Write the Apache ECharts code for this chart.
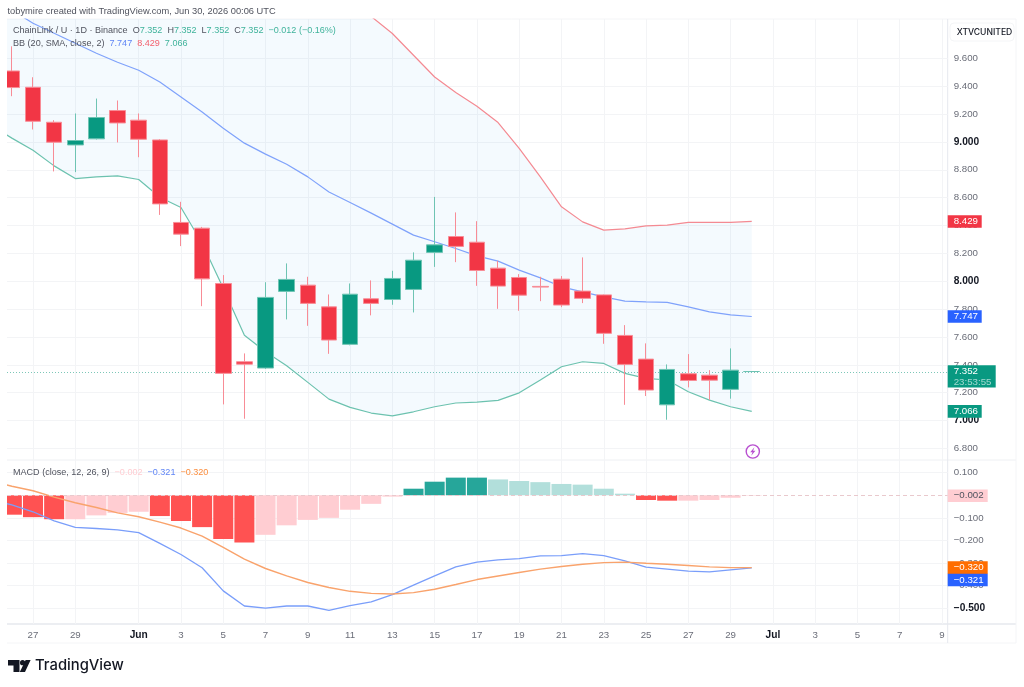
<!DOCTYPE html>
<html>
<head>
<meta charset="utf-8">
<title>ChainLink / U daily</title>
<style>
  html, body { margin: 0; padding: 0; background: #ffffff; }
  #chart { width: 1024px; height: 687px; }
</style>
<script src="https://cdn.jsdelivr.net/npm/echarts@6/dist/echarts.min.js"></script>
</head>
<body>
<div id="chart"></div>
<script>
// Calendar days since 27 May 2026 (25 May only feeds the indicator lines at the left edge).
const dayOffsets = [-2,-1,0,1,2,3,4,5,6,7,8,9,10,11,12,13,14,15,16,17,18,19,20,21,22,23,24,25,26,27,28,29,30,31,32,33,34];
const timeTicks = [0,2,5,7,9,11,13,15,17,19,21,23,25,27,29,31,33,35,37,39,41,43];
const timeLabels = ['27','29','Jun','3','5','7','9','11','13','15','17','19','21','23','25','27','29','Jul','3','5','7','9'];

const priceTicks = [6.8,7.0,7.2,7.4,7.6,7.8,8.0,8.2,8.4,8.6,8.8,9.0,9.2,9.4,9.6];
const macdTicks = [-0.5,-0.4,-0.3,-0.2,-0.1,0.1];

// Daily candles, 26 May to 30 Jun.
const opens  = [9.509,9.392,9.141,8.978,9.022,9.225,9.156,9.014,8.422,8.381,7.984,7.422,7.377,7.927,7.972,7.816,7.547,7.874,7.869,7.941,8.207,8.321,8.280,8.094,8.027,7.963,8.015,7.929,7.902,7.611,7.441,7.113,7.336,7.326,7.224,7.352];
const closes = [9.390,9.148,8.998,9.010,9.175,9.136,9.019,8.555,8.338,8.017,7.339,7.405,7.884,8.013,7.841,7.578,7.907,7.841,8.020,8.151,8.261,8.250,8.077,7.965,7.900,7.958,7.829,7.877,7.626,7.403,7.219,7.367,7.288,7.290,7.362,7.352];
const lows   = [9.328,9.089,8.788,8.783,9.017,8.996,8.890,8.476,8.252,7.821,7.116,7.013,7.370,7.726,7.680,7.479,7.540,7.755,7.831,7.776,8.103,8.137,7.967,7.802,7.788,7.857,7.814,7.843,7.551,7.113,7.176,7.006,7.238,7.149,7.157,7.352];
const highs  = [9.686,9.464,9.156,9.204,9.311,9.297,9.204,9.020,8.570,8.390,8.044,7.482,7.993,8.128,8.032,7.905,7.984,8.006,8.075,8.207,8.605,8.494,8.431,8.146,8.051,8.032,8.037,8.171,7.905,7.685,7.554,7.403,7.477,7.362,7.518,7.352];

// Bollinger bands, 25 May to 30 Jun.
const bbBasis = [10.040,9.945,9.852,9.780,9.708,9.636,9.572,9.514,9.430,9.323,9.215,9.098,8.991,8.912,8.840,8.749,8.641,8.565,8.489,8.410,8.331,8.283,8.235,8.182,8.144,8.080,8.024,7.960,7.924,7.888,7.857,7.852,7.848,7.816,7.780,7.759,7.747];
const bbUpper = [10.960,10.863,10.764,10.732,10.679,10.523,10.388,10.298,10.257,10.117,10.157,10.246,10.369,10.330,10.287,10.224,10.128,10.035,9.900,9.778,9.622,9.466,9.354,9.256,9.139,8.953,8.749,8.534,8.426,8.367,8.376,8.397,8.402,8.422,8.422,8.422,8.429];
const bbLower = [9.120,9.027,8.940,8.828,8.737,8.749,8.756,8.730,8.603,8.529,8.273,7.950,7.613,7.494,7.393,7.274,7.154,7.095,7.054,7.034,7.063,7.099,7.126,7.133,7.145,7.199,7.291,7.386,7.422,7.410,7.339,7.303,7.291,7.207,7.147,7.099,7.066];

// MACD (12, 26, 9): histogram starts on 26 May, the two lines on 25 May.
const macdHist = [-0.086,-0.097,-0.106,-0.106,-0.089,-0.078,-0.073,-0.092,-0.114,-0.141,-0.193,-0.209,-0.175,-0.133,-0.109,-0.100,-0.064,-0.038,-0.006,0.029,0.060,0.078,0.078,0.070,0.063,0.058,0.050,0.047,0.029,0.007,-0.021,-0.024,-0.024,-0.021,-0.011,-0.002];
const macdLine = [-0.020,-0.043,-0.073,-0.113,-0.142,-0.147,-0.153,-0.165,-0.213,-0.262,-0.321,-0.423,-0.490,-0.499,-0.490,-0.490,-0.509,-0.488,-0.472,-0.440,-0.398,-0.357,-0.317,-0.296,-0.286,-0.280,-0.268,-0.267,-0.258,-0.267,-0.290,-0.318,-0.327,-0.336,-0.339,-0.330,-0.321];
const macdSignal = [0.063,0.040,0.020,-0.008,-0.033,-0.054,-0.078,-0.095,-0.119,-0.145,-0.181,-0.231,-0.283,-0.324,-0.357,-0.386,-0.408,-0.425,-0.434,-0.437,-0.431,-0.416,-0.395,-0.373,-0.357,-0.342,-0.327,-0.315,-0.305,-0.298,-0.296,-0.301,-0.305,-0.311,-0.317,-0.320,-0.320];

const lastPrice = 7.352;
const lastHist = -0.002;

const UI_FONT = '"Liberation Sans", Arial, sans-serif';
const TEXT_PX = 9.7;
const FONT = TEXT_PX + 'px ' + UI_FONT;
const LEGEND_FONT = '9.05px ' + UI_FONT;
const GREEN = '#089981', RED = '#f23645', BLUE = '#2962ff', ORANGE = '#ff6d00';
const MUTED = '#6a6d78', INK = '#131722', GRID = '#f3f4f6', FRAME = '#e6e8ee';

const pane = { left: 7, right: 947.7, top: 19, split: 460, bottom: 624, axisEnd: 643, outer: 1016 };
const xMin = -1.23, xMax = 43.27;

const candleDays = dayOffsets.slice(1);
const pairs = (values) => values.map((v, i) => [dayOffsets[i], v]);

const candleData = candleDays.map((d, i) => ({
  value: [d, opens[i], closes[i], lows[i], highs[i]]
}));

// Histogram shade: strong while the bar grows away from zero, pale while it shrinks.
const histData = macdHist.map((v, i) => {
  const prev = i ? macdHist[i - 1] : 0;
  const rising = v >= prev;
  const colour = v >= 0 ? (rising ? '#26a69a' : '#b2dfdb') : (rising ? '#ffcdd2' : '#ff5252');
  return { value: [candleDays[i], v], itemStyle: { color: colour } };
});

// Value tags sitting on the price scale.
const priceTags = [
  { value: bbUpper[bbUpper.length - 1], text: '8.429', bg: RED, fg: '#ffffff', w: 34 },
  { value: bbBasis[bbBasis.length - 1], text: '7.747', bg: BLUE, fg: '#ffffff', w: 34 },
  { value: bbLower[bbLower.length - 1], text: '7.066', bg: GREEN, fg: '#ffffff', w: 34 },
  { value: lastPrice, text: '7.352', sub: '23:53:55', bg: GREEN, fg: '#ffffff', w: 48 }
];
const macdTags = [
  { value: lastHist, text: '\u22120.002', bg: '#ffcdd2', fg: '#50535e', w: 40 },
  { value: macdSignal[macdSignal.length - 1], text: '\u22120.320', bg: ORANGE, fg: '#ffffff', w: 40 },
  { value: macdLine[macdLine.length - 1], text: '\u22120.321', bg: BLUE, fg: '#ffffff', w: 40, shift: 12.2 }
];

function tagRenderer(tags) {
  return function (params, api) {
    const tag = tags[params.dataIndex];
    const p = api.coord([api.value(0), api.value(1)]);
    const y = p[1] + (tag.shift || 0);
    const children = [{
      type: 'rect',
      shape: { x: p[0], y: y - 6.3, width: tag.w, height: tag.sub ? 22.4 : 12.6 },
      style: { fill: tag.bg }
    }, {
      type: 'text',
      style: { x: p[0] + 6, y: y, text: tag.text, fill: tag.fg, font: FONT,
               textAlign: 'left', textVerticalAlign: 'middle' }
    }];
    if (tag.sub) {
      children.push({
        type: 'text',
        style: { x: p[0] + 6, y: y + 10.4, text: tag.sub, fill: 'rgba(255,255,255,0.62)',
                 font: FONT, textAlign: 'left', textVerticalAlign: 'middle' }
      });
    }
    return { type: 'group', children: children };
  };
}

// Channel between the outer bands, drawn as one polygon from the band values.
function channelRenderer(params, api) {
  if (params.dataIndex !== 0) return null;
  const top = dayOffsets.map((d, i) => api.coord([d, bbUpper[i]]));
  const bottom = dayOffsets.map((d, i) => api.coord([d, bbLower[i]])).reverse();
  return {
    type: 'polygon',
    shape: { points: top.concat(bottom) },
    style: { fill: 'rgba(33,150,243,0.05)' }
  };
}

const frameLine = (x1, y1, x2, y2, colour, width) => ({
  type: 'line', silent: true, z: -1,
  shape: { x1, y1, x2, y2 },
  style: { stroke: colour || FRAME, lineWidth: width || 1 }
});

const legendText = (x, y, text, rich) => ({
  type: 'text', silent: true, z: 50, x, y,
  style: { text, rich, font: LEGEND_FONT, fill: '#50535e', textVerticalAlign: 'middle' }
});

const ohlcRich = {
  n: { fill: '#50535e', font: LEGEND_FONT },
  g: { fill: '#3fb39b', font: LEGEND_FONT },
  b: { fill: '#5f85f5', font: LEGEND_FONT },
  r: { fill: '#f4626f', font: LEGEND_FONT },
  p: { fill: '#ffcdd2', font: LEGEND_FONT },
  o: { fill: '#fb8c3c', font: LEGEND_FONT }
};

const graphics = [
  // Pane frame and separators
  frameLine(pane.left, pane.top, pane.outer, pane.top, '#f4f5f7'),
  frameLine(pane.left, pane.split, pane.outer, pane.split, '#eef0f3'),
  frameLine(pane.left, pane.bottom, pane.outer, pane.bottom, '#eceef2', 2),
  frameLine(pane.left, pane.axisEnd, pane.outer, pane.axisEnd, '#f4f5f7'),
  frameLine(pane.right, pane.top, pane.right, pane.axisEnd, FRAME),
  frameLine(pane.outer, pane.top, pane.outer, pane.axisEnd, '#f4f5f7'),
  // Left margin: wide bars at the first visible day stop at the pane edge
  { type: 'rect', silent: true, z: 40, shape: { x: 0, y: pane.top, width: pane.left, height: pane.bottom - pane.top },
    style: { fill: '#ffffff' } },
  // Headings
  { type: 'text', silent: true, x: 7.5, y: 11, z: 50,
    style: { text: 'tobymire created with TradingView.com, Jun 30, 2026 00:06 UTC',
             font: '9.3px ' + UI_FONT, fill: '#50535e', textVerticalAlign: 'middle' } },
  legendText(13, 31, '{n|ChainLink / U \u00b7 1D \u00b7 Binance}  {n|O}{g|7.352}  {n|H}{g|7.352}  {n|L}{g|7.352}  {n|C}{g|7.352}  {g|\u22120.012 (\u22120.16%)}', ohlcRich),
  legendText(13, 43.5, '{n|BB (20, SMA, close, 2)}  {b|7.747}  {r|8.429}  {g|7.066}', ohlcRich),
  legendText(13, 472.7, '{n|MACD (close, 12, 26, 9)}  {p|\u22120.002}  {b|\u22120.321}  {o|\u22120.320}', ohlcRich),
  // Exchange badge above the price scale
  { type: 'rect', silent: true, z: 50,
    shape: { x: 950, y: 23, width: 64, height: 18, r: 4 },
    style: { fill: '#ffffff', stroke: '#f4f5f7' } },
  { type: 'text', silent: true, z: 51, x: 956.7, y: 32,
    style: { text: 'XTVCUNITED', font: '500 8.6px Inter, ' + UI_FONT, fill: INK, textVerticalAlign: 'middle' } },
  // Event badge
  { type: 'circle', silent: true, z: 50,
    shape: { cx: 752.8, cy: 451.5, r: 6.6 },
    style: { fill: '#ffffff', stroke: '#b84fd0', lineWidth: 1.4 } },
  { type: 'polygon', silent: true, z: 51,
    shape: { points: [[754.4, 447.2], [750.2, 452.2], [752.5, 452.2], [751.2, 455.8], [755.4, 450.8], [753.1, 450.8]] },
    style: { fill: '#b84fd0' } },
  // Wordmark
  { type: 'polygon', silent: true,
    shape: { points: [[8, 660], [19.5, 660], [19.5, 672], [13.5, 672], [13.5, 665.5], [8, 665.5]] },
    style: { fill: '#131722' } },
  { type: 'circle', silent: true, shape: { cx: 22.6, cy: 662.7, r: 2.6 }, style: { fill: '#131722' } },
  { type: 'polygon', silent: true,
    shape: { points: [[25.6, 660], [30.6, 660], [25, 672], [19.8, 672]] },
    style: { fill: '#131722' } },
  { type: 'text', silent: true, x: 35, y: 665.5,
    style: { text: 'TradingView', font: '500 14.8px Inter, ' + UI_FONT, fill: '#131722', textVerticalAlign: 'middle' } }
];

const priceLabel = v => v.toFixed(3);
const macdLabel = v => (v < 0 ? '\u2212' : '') + Math.abs(v).toFixed(3);

const axisCommon = {
  axisLine: { show: false },
  axisTick: { show: false },
  splitLine: { show: true, lineStyle: { color: GRID, width: 1 } }
};

const boldRich = { bold: { fontSize: 10.2, fontWeight: 700, color: INK, fontFamily: UI_FONT } };

const option = {
  animation: false,
  backgroundColor: '#ffffff',
  textStyle: { fontFamily: UI_FONT },
  graphic: graphics,
  grid: [
    { left: pane.left, top: pane.top, width: pane.right - pane.left, height: pane.split - pane.top },
    { left: pane.left, top: pane.split, width: pane.right - pane.left, height: pane.bottom - pane.split }
  ],
  xAxis: [
    Object.assign({}, axisCommon, {
      type: 'value', gridIndex: 0, min: xMin, max: xMax,
      axisLabel: { show: false },
      axisTick: { show: false, customValues: timeTicks }
    }),
    Object.assign({}, axisCommon, {
      type: 'value', gridIndex: 1, min: xMin, max: xMax,
      axisTick: { show: false, customValues: timeTicks },
      axisLabel: {
        customValues: timeTicks, margin: 6.5, fontSize: TEXT_PX, color: MUTED,
        hideOverlap: false, showMinLabel: true, showMaxLabel: true,
        formatter: v => {
          const t = timeLabels[timeTicks.indexOf(v)];
          return t === 'Jun' || t === 'Jul' ? '{bold|' + t + '}' : t;
        },
        rich: boldRich
      }
    })
  ],
  yAxis: [
    Object.assign({}, axisCommon, {
      type: 'value', gridIndex: 0, position: 'right', min: 6.717, max: 9.882, scale: true,
      axisTick: { show: false, customValues: priceTicks },
      axisLabel: {
        customValues: priceTicks, inside: false, margin: 6, fontSize: TEXT_PX, color: MUTED, align: 'left',
        formatter: v => (Math.abs(v - Math.round(v)) < 1e-6 ? '{bold|' + priceLabel(v) + '}' : priceLabel(v)),
        rich: boldRich
      }
    }),
    Object.assign({}, axisCommon, {
      type: 'value', gridIndex: 1, position: 'right', min: -0.5696, max: 0.156, scale: true,
      axisTick: { show: false, customValues: macdTicks },
      axisLabel: {
        customValues: macdTicks, margin: 6, fontSize: TEXT_PX, color: MUTED, align: 'left',
        formatter: v => (Math.abs(v + 0.5) < 1e-6 ? '{bold|' + macdLabel(v) + '}' : macdLabel(v)),
        rich: boldRich
      }
    })
  ],
  series: [
    {
      type: 'custom', name: 'BB channel', xAxisIndex: 0, yAxisIndex: 0, clip: true, silent: true, z: 1,
      data: dayOffsets.map((d, i) => [d, bbLower[i]]), renderItem: channelRenderer
    },
    { type: 'line', name: 'BB upper line', xAxisIndex: 0, yAxisIndex: 0, data: pairs(bbUpper),
      symbol: 'none', silent: true, z: 2, lineStyle: { color: '#f48a92', width: 1.2 } },
    { type: 'line', name: 'BB lower line', xAxisIndex: 0, yAxisIndex: 0, data: pairs(bbLower),
      symbol: 'none', silent: true, z: 2, lineStyle: { color: '#6cc2af', width: 1.2 } },
    { type: 'line', name: 'BB basis', xAxisIndex: 0, yAxisIndex: 0, data: pairs(bbBasis),
      symbol: 'none', silent: true, z: 2, lineStyle: { color: '#7fa2fb', width: 1.2 } },
    {
      type: 'candlestick', name: 'LINK', xAxisIndex: 0, yAxisIndex: 0, z: 3,
      data: candleData, barWidth: 16, clip: true, silent: true,
      itemStyle: {
        color: GREEN, color0: RED,
        borderColor: '#6ec4b3', borderColor0: '#f88c96', borderWidth: 1,
        borderColorDoji: '#6ec4b3'
      },
      markLine: {
        silent: true, symbol: 'none', label: { show: false }, animation: false, z: 1,
        lineStyle: { color: '#7dc7b8', type: [1, 2], width: 1 },
        data: [{ yAxis: lastPrice }]
      }
    },
    // MACD pane
    {
      type: 'bar', name: 'Histogram', xAxisIndex: 1, yAxisIndex: 1, data: histData,
      barWidth: 20, silent: true, z: 2, clip: true,
      markLine: {
        silent: true, symbol: 'none', label: { show: false }, animation: false,
        lineStyle: { color: '#e9c9cd', type: [4, 3], width: 1 },
        data: [{ yAxis: lastHist }]
      }
    },
    { type: 'line', name: 'MACD', xAxisIndex: 1, yAxisIndex: 1, data: pairs(macdLine),
      symbol: 'none', silent: true, z: 3, lineStyle: { color: '#7a9efa', width: 1.3 } },
    { type: 'line', name: 'Signal', xAxisIndex: 1, yAxisIndex: 1, data: pairs(macdSignal),
      symbol: 'none', silent: true, z: 4, lineStyle: { color: '#f9a36c', width: 1.4 } },
    // Scale tags
    {
      type: 'custom', xAxisIndex: 0, yAxisIndex: 0, clip: false, silent: true, z: 20,
      data: priceTags.map(t => [xMax, t.value]), renderItem: tagRenderer(priceTags)
    },
    {
      type: 'custom', xAxisIndex: 1, yAxisIndex: 1, clip: false, silent: true, z: 20,
      data: macdTags.map(t => [xMax, t.value]), renderItem: tagRenderer(macdTags)
    }
  ]
};

const chart = echarts.init(document.getElementById('chart'), null, { renderer: 'canvas' });
chart.setOption(option);
</script>
</body>
</html>
